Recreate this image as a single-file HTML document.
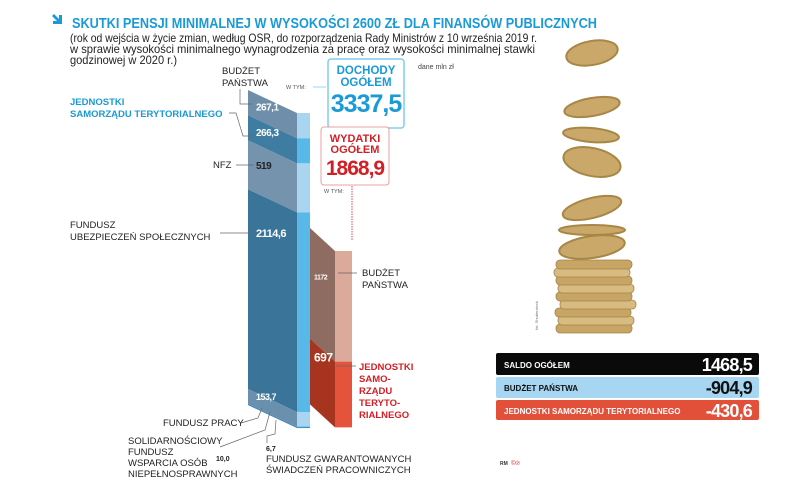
<!DOCTYPE html>
<html><head><meta charset="utf-8">
<style>
html,body{margin:0;padding:0;background:#fff;}
svg{display:block;font-family:"Liberation Sans",sans-serif;}
</style></head>
<body>
<svg id="chart" width="805" height="501" viewBox="0 0 805 501">
  <g>
    <path d="M52,16 L54,14 L59,19 L59,15 L62,15 L62,24 L53,24 L53,21 L57,21 Z" fill="#1a9ad6"/>
    <text x="72" y="28" font-size="14.5" font-weight="bold" fill="#1a9ad6" textLength="525" lengthAdjust="spacingAndGlyphs">SKUTKI PENSJI MINIMALNEJ W WYSOKOŚCI 2600 ZŁ DLA FINANSÓW PUBLICZNYCH</text>
    <g font-size="11.6" fill="#222">
      <text x="70" y="42" textLength="467" lengthAdjust="spacingAndGlyphs">(rok od wejścia w życie zmian, według OSR, do rozporządzenia Rady Ministrów z 10 września 2019 r.</text>
      <text x="70" y="53" textLength="465" lengthAdjust="spacingAndGlyphs">w sprawie wysokości minimalnego wynagrodzenia za pracę oraz wysokości minimalnej stawki</text>
      <text x="70" y="64" textLength="107" lengthAdjust="spacingAndGlyphs">godzinowej w 2020 r.)</text>
    </g>
    <text x="418" y="69" font-size="7" fill="#444">dane mln zł</text>
  </g>

  <g id="bars"></g>

  <g>
    <rect x="328" y="59" width="76" height="69" rx="3" fill="#fff" stroke="#7fcdef" stroke-width="1.5"/>
    <text x="366" y="74" font-size="11.5" font-weight="bold" fill="#1a9ad6" text-anchor="middle">DOCHODY</text>
    <text x="366" y="86" font-size="11.5" font-weight="bold" fill="#1a9ad6" text-anchor="middle">OGÓŁEM</text>
    <text x="366" y="112" font-size="25" font-weight="bold" fill="#1a9ad6" text-anchor="middle" letter-spacing="-1">3337,5</text>
  </g>
  <text x="286" y="89" font-size="5.5" fill="#555">W TYM:</text>
  <line x1="313" y1="87" x2="326" y2="87" stroke="#7fcdef" stroke-width="0.8"/>

  <g>
    <rect x="321" y="127" width="68" height="58" rx="3" fill="#fff" stroke="#e9a0a0" stroke-width="1"/>
    <text x="355" y="142" font-size="11" font-weight="bold" fill="#d21f26" text-anchor="middle">WYDATKI</text>
    <text x="355" y="153" font-size="11" font-weight="bold" fill="#d21f26" text-anchor="middle">OGÓŁEM</text>
    <text x="355" y="175" font-size="21" font-weight="bold" fill="#d21f26" text-anchor="middle" letter-spacing="-1">1868,9</text>
  </g>
  <text x="324" y="193" font-size="5.5" fill="#555">W TYM:</text>
  <line x1="352" y1="186" x2="352" y2="240" stroke="#d21f26" stroke-width="0.8" stroke-dasharray="1.5,1"/>

  <g font-size="9.5" fill="#222">
    <text x="222" y="74">BUDŻET</text>
    <text x="222" y="86">PAŃSTWA</text>
    <polyline points="240,89 240,104 252,104" fill="none" stroke="#666" stroke-width="0.7"/>
    <text x="70" y="105" fill="#1a9ad6" font-weight="bold">JEDNOSTKI</text>
    <text x="70" y="117" fill="#1a9ad6" font-weight="bold">SAMORZĄDU TERYTORIALNEGO</text>
    <polyline points="229,113 236,113 243,136 253,136" fill="none" stroke="#666" stroke-width="0.7"/>
    <text x="213" y="168">NFZ</text>
    <line x1="236" y1="165" x2="254" y2="165" stroke="#666" stroke-width="0.7"/>
    <text x="70" y="228">FUNDUSZ</text>
    <text x="70" y="240">UBEZPIECZEŃ SPOŁECZNYCH</text>
    <line x1="220" y1="233" x2="254" y2="233" stroke="#666" stroke-width="0.7"/>
    <text x="163" y="426">FUNDUSZ PRACY</text>
    <polyline points="241,423 258,418 262,408" fill="none" stroke="#666" stroke-width="0.7"/>
    <text x="128" y="444">SOLIDARNOŚCIOWY</text>
    <text x="128" y="455">FUNDUSZ</text>
    <text x="128" y="466">WSPARCIA OSÓB</text>
    <text x="128" y="477">NIEPEŁNOSPRAWNYCH</text>
    <polyline points="220,447 265,430 270,412" fill="none" stroke="#666" stroke-width="0.7"/>
    <text x="216" y="461" font-size="7" font-weight="bold">10,0</text>
    <text x="266" y="451" font-size="7" font-weight="bold">6,7</text>
    <polyline points="267,443 267,436 275,434 276,420" fill="none" stroke="#666" stroke-width="0.7"/>
    <text x="266" y="462">FUNDUSZ GWARANTOWANYCH</text>
    <text x="266" y="473">ŚWIADCZEŃ PRACOWNICZYCH</text>
  </g>

  <g font-size="9.5">
    <text x="362" y="276" fill="#222">BUDŻET</text>
    <text x="362" y="288" fill="#222">PAŃSTWA</text>
    <line x1="338" y1="273" x2="357" y2="273" stroke="#666" stroke-width="0.7"/>
    <g fill="#d21f26" font-weight="bold">
      <text x="359" y="370">JEDNOSTKI</text>
      <text x="359" y="382">SAMO-</text>
      <text x="359" y="394">RZĄDU</text>
      <text x="359" y="406">TERYTO-</text>
      <text x="359" y="418">RIALNEGO</text>
    </g>
    <line x1="336" y1="366" x2="356" y2="366" stroke="#666" stroke-width="0.7"/>
  </g>

  <g id="coins"></g>
  <text transform="translate(538,330) rotate(-90)" font-size="4" fill="#777">fot. Shutterstock</text>

  <g>
    <g>
      <rect x="496" y="353" width="263" height="22" rx="2" fill="#0a0a0a"/>
      <text x="504" y="368" font-size="8" font-weight="bold" fill="#fff">SALDO OGÓŁEM</text>
      <text x="752" y="371" font-size="18" font-weight="bold" fill="#fff" text-anchor="end" letter-spacing="-0.8">1468,5</text>
    </g>
    <g>
      <rect x="496" y="377" width="263" height="21" rx="2" fill="#a6d6f2"/>
      <text x="504" y="391" font-size="8" font-weight="bold" fill="#111">BUDŻET PAŃSTWA</text>
      <text x="752" y="394" font-size="18" font-weight="bold" fill="#111" text-anchor="end" letter-spacing="-0.8">-904,9</text>
    </g>
    <g>
      <rect x="496" y="400" width="263" height="20" rx="2" fill="#e2503a"/>
      <text x="504" y="414" font-size="8" font-weight="bold" fill="#fff">JEDNOSTKI SAMORZĄDU TERYTORIALNEGO</text>
      <text x="752" y="417" font-size="18" font-weight="bold" fill="#fff" text-anchor="end" letter-spacing="-0.8">-430,6</text>
    </g>
  </g>
  <text x="500" y="465" font-size="5" font-weight="bold" fill="#333">RM</text>
  <text x="511" y="465" font-size="6" fill="#d21f26">©℗</text>
</svg>
<script>
const incomeCategories = ["Budżet państwa","JST","NFZ","FUS","Fundusz Pracy","SFWON","FGŚP"];
const incomeValues = [267.1, 266.3, 519, 2114.6, 153.7, 10.0, 6.7];
const incomeLabels = ["267,1","266,3","519","2114,6","153,7","",""];
const expenseCategories = ["Budżet państwa","JST"];
const expenseValues = [1172, 697];
const expenseLabels = ["1172","697"];

const NS = "http://www.w3.org/2000/svg";
const K = 0.0944;
function yScale(v, top){ return top + v*K; }
const barsG = document.getElementById('bars');
function poly(pts, fill){
  const p = document.createElementNS(NS,'polygon');
  p.setAttribute('points', pts.map(a=>a.join(',')).join(' '));
  p.setAttribute('fill', fill);
  barsG.appendChild(p);
  return p;
}
function drawBar(values, labels, cats, x0, x1, xs, top, slope, fronts, sides, prefix, labelStyle){
  let acc = 0;
  values.forEach((v,i)=>{
    const ya = yScale(acc, top), yb = yScale(acc+v, top);
    const f = poly([[x0,ya],[x1,ya+slope],[x1,yb+slope],[x0,yb]], fronts[i]);
    
    
    const s = poly([[x1,ya+slope],[xs,ya+slope],[xs,yb+slope],[x1,yb+slope]], sides[i]);
    
    
    if(labels[i]){
      const t = document.createElementNS(NS,'text');
      
      
      const ym = (ya+yb)/2 + 4 + (labelStyle.dy[i]||0);
      t.setAttribute('x', x0 + labelStyle.dx);
      t.setAttribute('y', Math.min(ym, yb-2));
      t.setAttribute('font-size', labelStyle.size[i]);
      t.setAttribute('font-weight','bold');
      t.setAttribute('fill', labelStyle.color[i]);
      t.setAttribute('letter-spacing','-0.5');
      t.textContent = labels[i];
      barsG.appendChild(t);
    }
    acc += v;
  });
}
drawBar(incomeValues, incomeLabels, incomeCategories, 248, 297, 310, 90, 23,
  ["#6f8ea9","#3e7ca2","#7593ad","#3a7599","#6a90ad","#4d88b3","#1f6fa8"],
  ["#a9d5f1","#58b9e9","#a9d5f1","#58b9e9","#a9d5f1","#58b9e9","#1f6fa8"],
  "income-bar",
  {dx:8, size:[10,10,10,11,9,9,9], color:["#fff","#fff","#222","#fff","#fff","#fff","#fff"], dy:[4,4,0,-56,0,0,0]});
drawBar(expenseValues, expenseLabels, expenseCategories, 310, 335, 352, 228, 23,
  ["#8f6c61","#a7341e"], ["#dcaa9a","#e5533b"],
  "expense-bar",
  {dx:4, size:[7,12], color:["#fff","#fff"], dy:[-8,-14]});

const coinsG = document.getElementById('coins');
const coinX = [592,592,591,592,592,592,592];
const coinY = [53,107,135,162,208,230,247];
const coinRx = [26,28,28,29,30,33,33];
const coinRy = [12,9,7,14,10,5,11];
const coinRot = [-10,-10,5,12,-14,0,-8];
coinX.forEach((x,i)=>{
  const e = document.createElementNS(NS,'ellipse');
  
  
  e.setAttribute('cx',x); e.setAttribute('cy',coinY[i]);
  e.setAttribute('rx',coinRx[i]); e.setAttribute('ry',coinRy[i]);
  e.setAttribute('transform','rotate('+coinRot[i]+' '+x+' '+coinY[i]+')');
  e.setAttribute('fill','#c9a86a'); e.setAttribute('stroke','#a88646'); e.setAttribute('stroke-width','2');
  coinsG.appendChild(e);
});
const stackY = [330,322,314,306,298,290,282,274,266];
const stackX = [594,596,593,598,594,596,594,592,594];
stackY.forEach((y,i)=>{
  const r = document.createElementNS(NS,'rect');
  
  
  r.setAttribute('x',stackX[i]-38); r.setAttribute('y',y-6);
  r.setAttribute('width',76); r.setAttribute('height',9); r.setAttribute('rx',4);
  r.setAttribute('fill', i%2 ? '#d7bb80' : '#c6a565');
  r.setAttribute('stroke','#a5844a'); r.setAttribute('stroke-width','0.8');
  coinsG.appendChild(r);
});
</script>
</body></html>
